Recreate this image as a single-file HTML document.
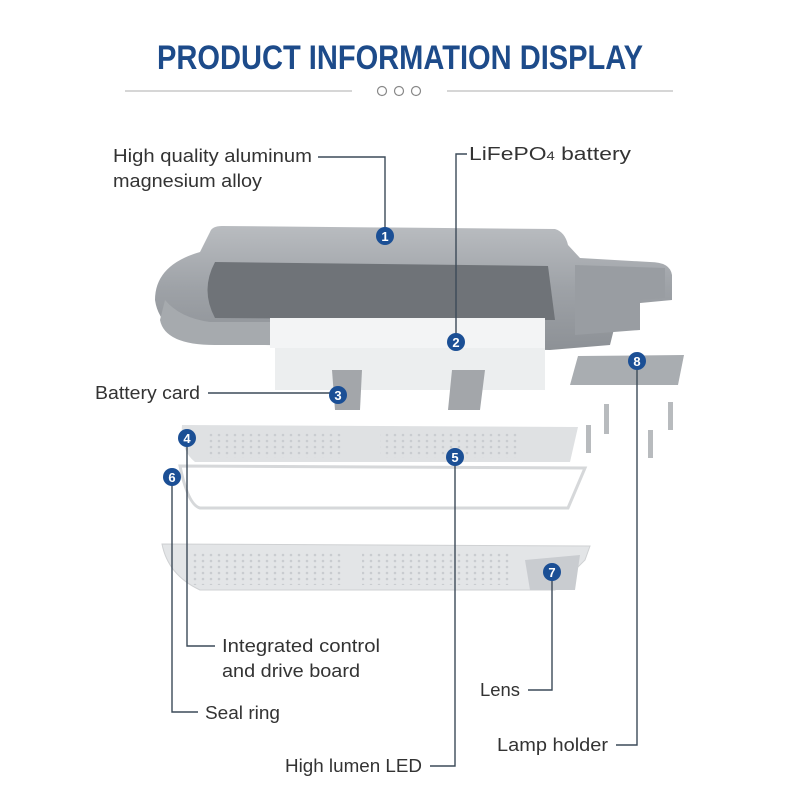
<!DOCTYPE html>
<html><head><meta charset="utf-8"><style>
html,body{margin:0;padding:0;background:#fff;}
svg{display:block;}
text{font-family:"Liberation Sans",sans-serif;}
</style></head><body>
<svg width="800" height="800" viewBox="0 0 800 800" xmlns="http://www.w3.org/2000/svg">
<defs>
<linearGradient id="hg" x1="0" y1="0" x2="0" y2="1"><stop offset="0" stop-color="#b9bcc0"/><stop offset="0.5" stop-color="#9ea2a7"/><stop offset="1" stop-color="#8d9196"/></linearGradient>
<pattern id="dots" width="8" height="6" patternUnits="userSpaceOnUse"><circle cx="3" cy="3" r="1.3" fill="#c9ccd0"/></pattern>
</defs>
<text x="400" y="69" text-anchor="middle" font-size="34" font-weight="bold" fill="#1d4b8a" textLength="486" lengthAdjust="spacingAndGlyphs">PRODUCT INFORMATION DISPLAY</text>
<line x1="125" y1="91" x2="352" y2="91" stroke="#c8c8c8" stroke-width="1.5"/>
<line x1="447" y1="91" x2="673" y2="91" stroke="#c8c8c8" stroke-width="1.5"/>
<g fill="none" stroke="#888" stroke-width="1.2"><circle cx="382" cy="91" r="4.5"/><circle cx="399" cy="91" r="4.5"/><circle cx="416" cy="91" r="4.5"/></g>

<path d="M210 232 Q212 226 222 226 L555 229 Q565 232 568 245 L580 258 L650 262 Q670 262 672 275 L672 300 L620 305 L610 345 L550 350 L265 345 L210 343 Q160 335 155 300 Q155 265 200 252 Z" fill="url(#hg)"/>
<path d="M215 262 L548 266 L555 320 L215 318 Q200 290 215 262 Z" fill="#6f7378"/>
<path d="M160 320 Q165 345 215 345 L280 345 L280 322 L210 322 Q180 318 165 300 Z" fill="#a6aaae"/>
<path d="M575 265 L665 268 L665 298 L640 300 L640 330 L575 335 Z" fill="#999da2"/>
<rect x="275" y="318" width="270" height="72" fill="#eceeef"/>
<rect x="270" y="318" width="275" height="30" fill="#f3f4f5"/>
<path d="M332 370 L362 370 L360 410 L335 410 Z" fill="#a3a6aa"/>
<path d="M452 370 L485 370 L480 410 L448 410 Z" fill="#a3a6aa"/>
<path d="M578 356 L684 355 L678 385 L570 385 Z" fill="#a9adb1"/>
<g fill="#b8bbbe"><rect x="586" y="425" width="5" height="28"/><rect x="604" y="404" width="5" height="30"/><rect x="648" y="430" width="5" height="28"/><rect x="668" y="402" width="5" height="28"/></g>
<path d="M182 425 L578 427 L570 462 L195 462 Q180 450 182 425 Z" fill="#dfe1e3"/>
<rect x="205" y="432" width="140" height="26" fill="url(#dots)"/>
<rect x="380" y="432" width="140" height="26" fill="url(#dots)"/>
<path d="M180 466 L585 468 L568 508 L200 508 Q188 505 180 466 Z" fill="none" stroke="#d6d8da" stroke-width="3"/>
<path d="M162 544 L590 546 L585 560 L555 590 L200 590 Q168 575 162 544 Z" fill="#e3e5e7" stroke="#cfd1d3"/>
<rect x="190" y="553" width="155" height="32" fill="url(#dots)"/>
<rect x="362" y="553" width="150" height="32" fill="url(#dots)"/>
<path d="M525 560 L580 555 L575 590 L530 590 Z" fill="#c9ccd0"/>

<g fill="none" stroke="#3c4a58" stroke-width="1.4">
<polyline points="318,157 385,157 385,230"/>
<polyline points="467,154 456,154 456,336"/>
<line x1="208" y1="393" x2="330" y2="393"/>
<polyline points="187,445 187,646 215,646"/>
<polyline points="172,484 172,712 198,712"/>
<polyline points="455,464 455,766 430,766"/>
<polyline points="552,579 552,690 528,690"/>
<polyline points="637,368 637,745 616,745"/>
</g>
<g font-size="13" font-weight="bold" fill="#fff" text-anchor="middle">
<g><circle cx="385" cy="236" r="9" fill="#1b4f95"/><text x="385" y="241">1</text></g>
<g><circle cx="456" cy="342" r="9" fill="#1b4f95"/><text x="456" y="347">2</text></g>
<g><circle cx="338" cy="395" r="9" fill="#1b4f95"/><text x="338" y="400">3</text></g>
<g><circle cx="187" cy="438" r="9" fill="#1b4f95"/><text x="187" y="443">4</text></g>
<g><circle cx="455" cy="457" r="9" fill="#1b4f95"/><text x="455" y="462">5</text></g>
<g><circle cx="172" cy="477" r="9" fill="#1b4f95"/><text x="172" y="482">6</text></g>
<g><circle cx="552" cy="572" r="9" fill="#1b4f95"/><text x="552" y="577">7</text></g>
<g><circle cx="637" cy="361" r="9" fill="#1b4f95"/><text x="637" y="366">8</text></g>
</g>
<g font-size="18.5" fill="#333">
<text x="113" y="162" textLength="199" lengthAdjust="spacingAndGlyphs">High quality aluminum</text>
<text x="113" y="187" textLength="149" lengthAdjust="spacingAndGlyphs">magnesium alloy</text>
<text x="469" y="160" textLength="162" lengthAdjust="spacingAndGlyphs">LiFePO<tspan font-size="12">4</tspan> battery</text>
<text x="95" y="399" textLength="105" lengthAdjust="spacingAndGlyphs">Battery card</text>
<text x="222" y="652" textLength="158" lengthAdjust="spacingAndGlyphs">Integrated control</text>
<text x="222" y="677" textLength="138" lengthAdjust="spacingAndGlyphs">and drive board</text>
<text x="205" y="719" textLength="75" lengthAdjust="spacingAndGlyphs">Seal ring</text>
<text x="480" y="696" textLength="40" lengthAdjust="spacingAndGlyphs">Lens</text>
<text x="497" y="751" textLength="111" lengthAdjust="spacingAndGlyphs">Lamp holder</text>
<text x="285" y="772" textLength="137" lengthAdjust="spacingAndGlyphs">High lumen LED</text>
</g>
</svg>
</body></html>
